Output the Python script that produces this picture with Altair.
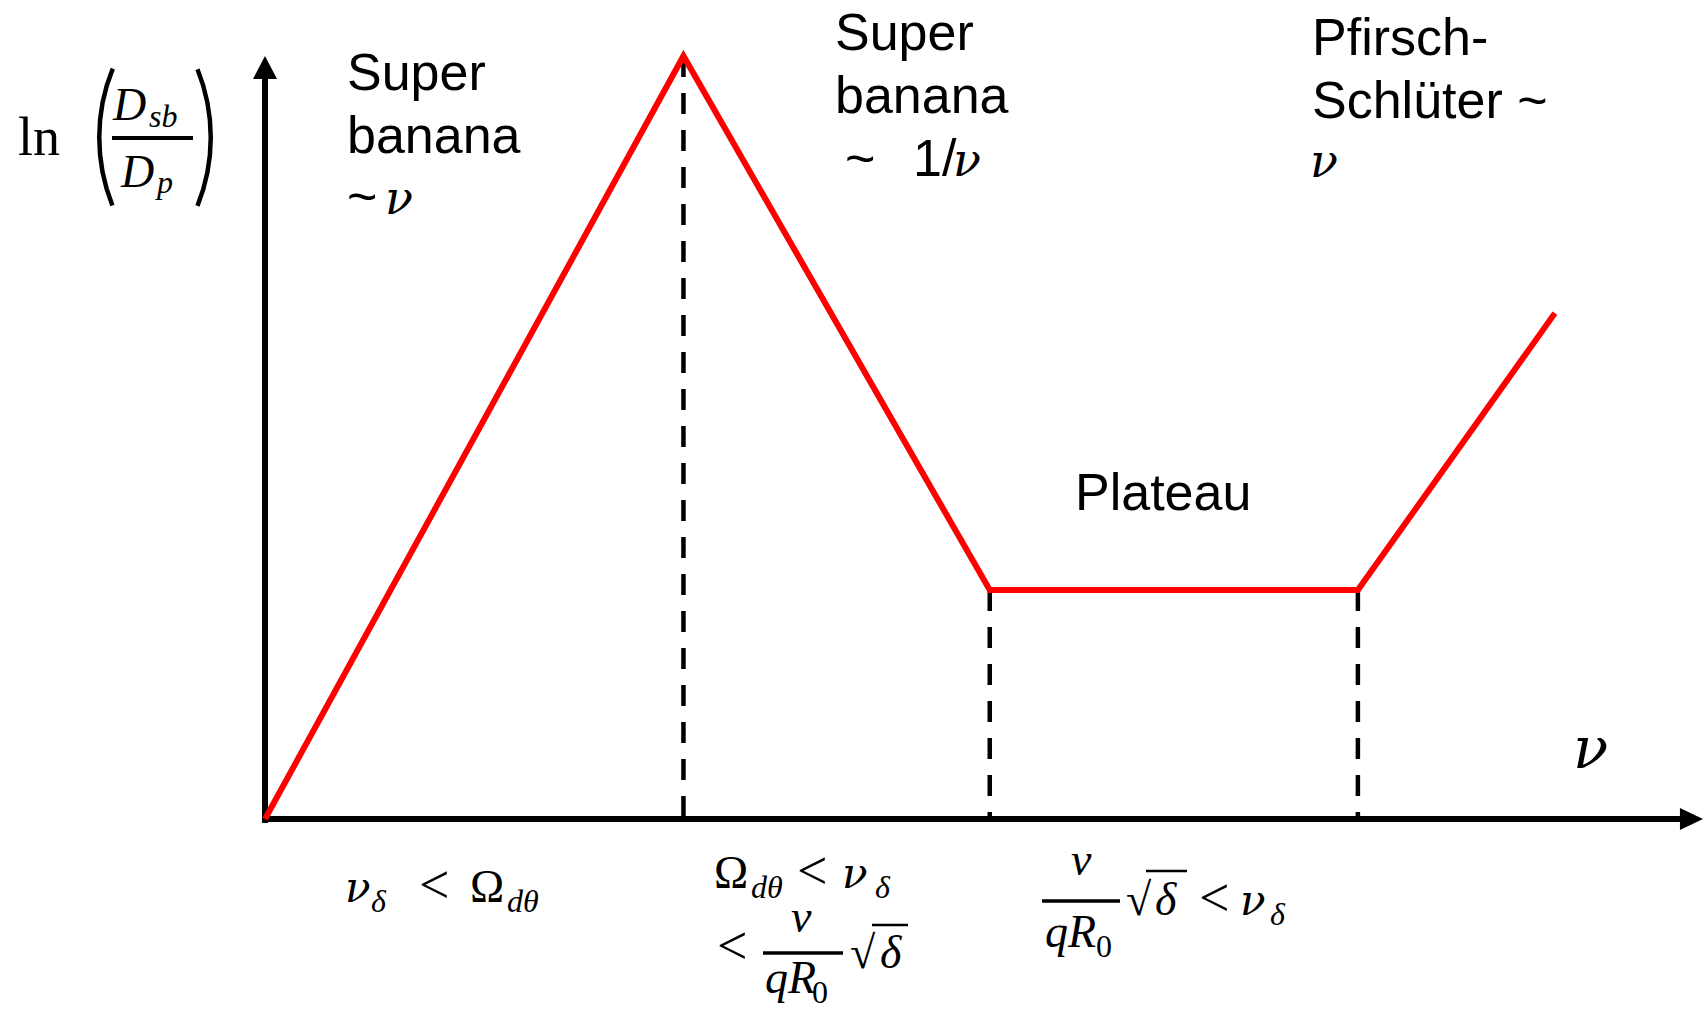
import altair as alt
import pandas as pd

# Schematic ln(D_sb/D_p) versus collision frequency nu (arbitrary units)
nu_break = [0.0, 2.91, 5.04, 7.6, 8.97]
ln_ratio = [0.0, 10.0, 3.0, 3.0, 6.63]
# regime boundaries, marked with dashed drop lines
boundary_nu = [2.91, 5.04, 7.6]
boundary_ln = [10.0, 3.0, 3.0]
axis_len = 10.0

# canvas and pixel frame of the drawing
W, H = 1708, 1009
OX, OY = 265, 819          # origin of the axes, px
SX, SY = 143.8, 76.3       # px per unit along nu and ln


def ux(px):
    return (px - OX) / SX


def uy(py):
    return (OY - py) / SY


xs = alt.Scale(domain=[ux(0), ux(W)], nice=False, zero=False)
ys = alt.Scale(domain=[uy(H), uy(0)], nice=False, zero=False)
X = lambda f: alt.X(f, type="quantitative", scale=xs, axis=None)
Y = lambda f: alt.Y(f, type="quantitative", scale=ys, axis=None)

# ---- axes with arrow heads -------------------------------------------------
yaxis = alt.Chart(pd.DataFrame({"x": [0.0], "y0": [uy(OY + 4)], "y1": [axis_len - 12 / SY]})).mark_rule(
    color="black", strokeWidth=6).encode(x=X("x"), y=Y("y0"), y2="y1:Q")
xaxis = alt.Chart(pd.DataFrame({"y": [0.0], "x0": [ux(OX - 3)], "x1": [axis_len - 12 / SX]})).mark_rule(
    color="black", strokeWidth=6).encode(y=Y("y"), x=X("x0"), x2="x1:Q")

up_head = alt.Chart(pd.DataFrame({"x": [0.0], "y": [axis_len]})).mark_point(
    shape="M0,0L0.5,0.96L-0.5,0.96Z", size=2304, filled=True, color="black", opacity=1, strokeWidth=0
).encode(x=X("x"), y=Y("y"))
right_head = alt.Chart(pd.DataFrame({"x": [axis_len], "y": [0.0]})).mark_point(
    shape="M0,0L-0.96,-0.46L-0.96,0.46Z", size=2304, filled=True, color="black", opacity=1, strokeWidth=0
).encode(x=X("x"), y=Y("y"))

# ---- dashed regime boundaries ----------------------------------------------
drops = pd.DataFrame({"nu": boundary_nu, "top": boundary_ln, "bottom": [0.0] * len(boundary_nu)})
dashed = alt.Chart(drops).mark_rule(color="black", strokeWidth=4.5, strokeDash=[21, 16]).encode(
    x=X("nu"), y=Y("top"), y2="bottom:Q")

# ---- the red curve -----------------------------------------------------------
curve = pd.DataFrame({"nu": nu_break, "ln": ln_ratio, "k": list(range(len(nu_break)))})
red = alt.Chart(curve).mark_line(color="#ff0000", strokeWidth=6, strokeJoin="miter", strokeCap="butt").encode(
    x=X("nu"), y=Y("ln"), order="k:Q")

# ---- text: (string, left px, baseline px, font size) -----------------------
sans_text = [
    ("Super", 347, 90, 52), ("banana", 347, 153, 52), ("~", 347, 214, 52),
    ("Super", 835, 50, 52), ("banana", 835, 113, 52), ("~", 845, 176, 52), ("1/", 913, 176, 52),
    ("Pfirsch-", 1312, 55, 52), ("Schlüter ~", 1312, 118, 52),
    ("Plateau", 1075, 510, 52),
]
# Greek nu in a face whose italic nu is clearly distinct from a latin v
greek_nu = [
    ("ν", 385, 214, 46), ("ν", 953, 176, 46), ("ν", 1310, 177, 46), ("ν", 1573, 768, 58),
    ("ν", 345, 902, 42), ("ν", 842, 888, 42), ("ν", 1240, 915, 42),
]
serif_italic = [
    ("D", 113, 120, 46), ("sb", 149, 127, 32), ("D", 121, 187, 46), ("p", 157, 193, 32),
    ("δ", 371, 912, 32), ("dθ", 507, 912, 32),
    ("dθ", 751, 898, 32), ("δ", 875, 898, 32),
    ("v", 791, 932, 46), ("qR", 765, 993, 46), ("δ", 880, 968, 46),
    ("v", 1071, 875, 46), ("qR", 1045, 947, 46), ("δ", 1155, 915, 46),
    ("δ", 1270, 925, 32),
]
serif_upright = [
    ("ln", 18, 155, 54),
    ("<", 419, 903, 54), ("Ω", 470, 902, 46),
    ("Ω", 714, 888, 46), ("<", 797, 889, 54), ("<", 717, 964, 54), ("0", 812, 1003, 32), ("√", 850, 968, 46),
    ("0", 1096, 957, 32), ("√", 1126, 915, 46), ("<", 1199, 916, 54),
]


def text_layer(items, font, style="normal"):
    df = pd.DataFrame(
        {"t": [i[0] for i in items], "x": [ux(i[1]) for i in items],
         "y": [uy(i[2]) for i in items], "fs": [i[3] for i in items]})
    return alt.Chart(df).mark_text(
        font=font, fontStyle=style, align="left", baseline="alphabetic", color="black"
    ).encode(x=X("x"), y=Y("y"), text="t:N", size=alt.Size("fs:Q", scale=None, legend=None))


# fraction bars and radical overbars: (left px, right px, y px, width)
bars = [(112, 193, 138, 4), (763, 843, 953, 3.5), (1042, 1120, 901, 3.5),
        (872, 908, 925, 2.5), (1146, 1187, 871, 2.5)]
bar_layers = [
    alt.Chart(pd.DataFrame({"x0": [ux(a)], "x1": [ux(b)], "y": [uy(c)]})).mark_rule(
        color="black", strokeWidth=w).encode(x=X("x0"), x2="x1:Q", y=Y("y"))
    for a, b, c, w in bars
]

# big parentheses around the y-label fraction, drawn as thin arcs
parens = [(281.5, 137.5, 4.33, 5.10), (28.5, 137.5, 1.187, 1.955)]
paren_layers = [
    alt.Chart(pd.DataFrame({"x": [ux(cx)], "y": [uy(cy)]})).mark_arc(
        theta=t0, theta2=t1, radius=184.5, radius2=180, color="black").encode(x=X("x"), y=Y("y"))
    for cx, cy, t0, t1 in parens
]

chart = alt.layer(
    yaxis, xaxis, up_head, right_head, dashed, red,
    text_layer(sans_text, "Liberation Sans"),
    text_layer(greek_nu, "DejaVu Serif", "italic"),
    text_layer(serif_italic, "Liberation Serif", "italic"),
    text_layer(serif_upright, "Liberation Serif"),
    *bar_layers, *paren_layers,
).properties(
    width=W, height=H, padding=0, autosize=alt.AutoSizeParams(type="none"), background="white"
).configure_view(stroke=None)

chart.save("out.html", embed_options={"renderer": "svg", "actions": False})
